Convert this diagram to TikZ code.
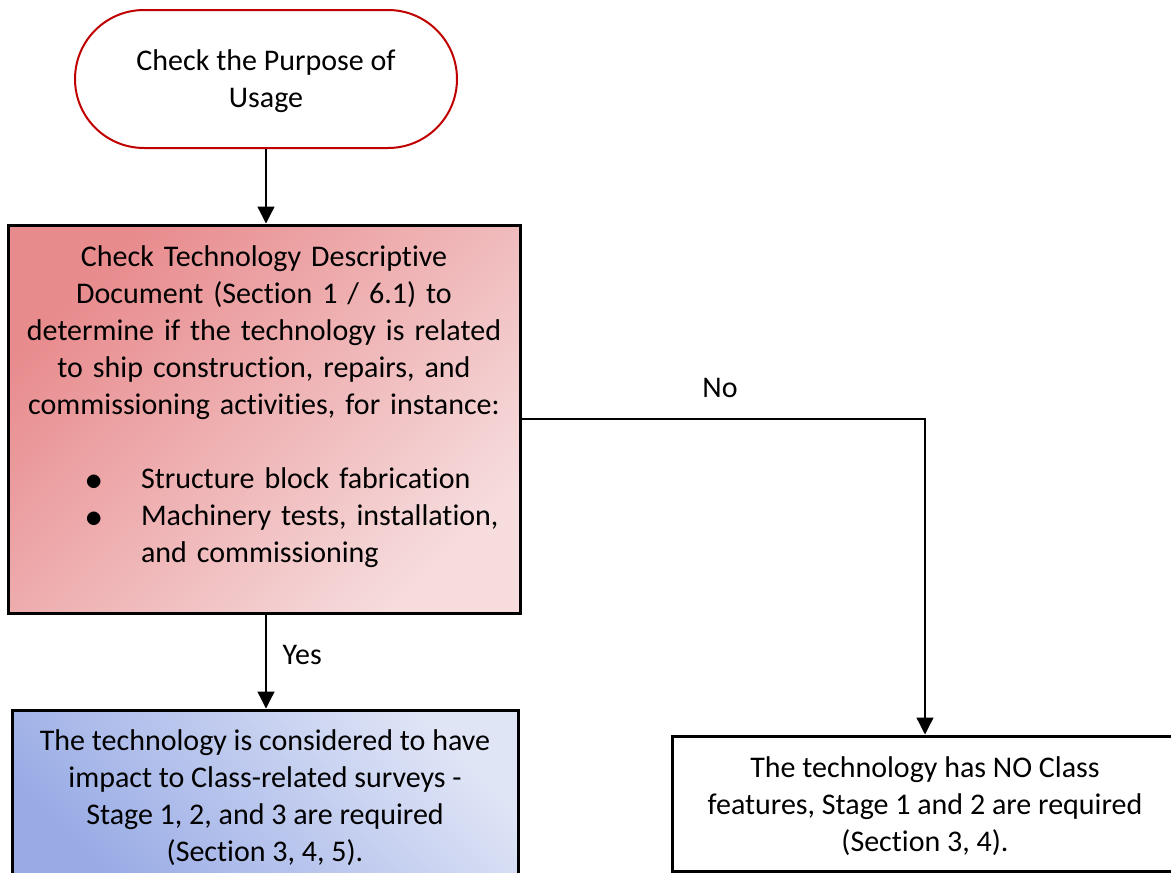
\documentclass[tikz,border=0pt]{standalone}
\usepackage{fontspec}
\setmainfont{Carlito}[Ligatures=NoCommon]
\usetikzlibrary{shapes.misc,arrows.meta}
\definecolor{termred}{HTML}{C00000}
\definecolor{redA}{HTML}{E88B8D}
\definecolor{redB}{HTML}{F6DCDD}
\definecolor{blueA}{HTML}{E0E5F6}
\definecolor{blueB}{HTML}{98ABE5}
\newcommand{\bigbul}{\raisebox{-1.5pt}{\scalebox{1.4}{$\bullet$}}}
\tikzset{
  txt/.style={font=\fontsize{30pt}{37pt}\selectfont, text=black},
  term/.style={rounded rectangle, draw=termred, line width=2pt, fill=white,
    minimum width=382pt, minimum height=138pt, inner sep=0pt},
  procbox/.style={txt, rectangle, draw=black, line width=3pt, inner sep=0pt},
  conn/.style={draw=black, line width=1.3pt, -{Triangle[width=17pt,length=17pt]}},
  lbl/.style={txt, inner sep=0pt, align=center}
}
\begin{document}
\begin{tikzpicture}[x=1pt,y=-1pt]
\useasboundingbox (0,0) rectangle (1171,873);
\clip (0,0) rectangle (1171,873);

\node[term] (purpose) at (266,79) {};
\node[lbl] (purposetext) at ([yshift=-2.5pt]purpose.center) {Check the Purpose of\\Usage};

\node[procbox, top color=redA, bottom color=redB, shading angle=45,
  minimum width=512pt, minimum height=388pt, text width=480pt] (check) at (264,419)
  {\parskip=0pt\centering
   Check Technology Descriptive\\
   Document (Section 1 / 6.1) to\\
   determine if the technology is related\\
   to ship construction, repairs, and\\
   commissioning activities, for instance:\par
   \vspace{37pt}
   {\leftskip=0pt \rightskip=0pt plus 1fil \parfillskip=0pt plus 1fil
   \noindent\hspace*{61pt}\makebox[56pt][l]{\bigbul}Structure block fabrication\par
   \noindent\hspace*{61pt}\makebox[56pt][l]{\bigbul}Machinery tests, installation,\par
   \noindent\hspace*{117pt}and commissioning\par}
   \vspace{24pt}};

\node[procbox, top color=blueA, bottom color=blueB, shading angle=-45,
  minimum width=506pt, minimum height=175pt, align=center] (yesbox) at (265,797.5)
  {The technology is considered to have\\
   impact to Class-related surveys -\\
   Stage 1, 2, and 3 are required\\
   (Section 3, 4, 5).};

\node[procbox, fill=white, minimum width=506pt, minimum height=135pt] (nobox) at (925,803.5) {};
\node[lbl] (notext) at ([yshift=-3pt]nobox.center)
  {The technology has NO Class\\
   features, Stage 1 and 2 are required\\
   (Section 3, 4).};

\draw[conn] (purpose.south) -- (purpose.south |- check.north);
\draw[conn] (check.south -| purpose.south) -- (purpose.south |- yesbox.north)
  node[lbl, pos=0.43, right=16pt] (yes) {Yes};
\draw[conn] (check.east) -| (nobox.north);
\node[lbl] (no) at (720,388) {No};
\end{tikzpicture}
\end{document}
